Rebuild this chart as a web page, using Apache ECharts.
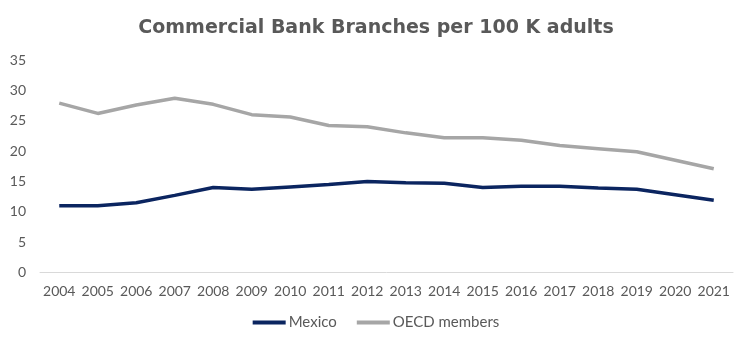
<!DOCTYPE html>
<html><head><meta charset="utf-8">
<script src="https://cdn.jsdelivr.net/npm/echarts@6/dist/echarts.min.js"></script>
<style>html,body{margin:0;padding:0;background:#fff}#c{width:752px;height:346px}</style>
</head><body><div id="c"></div>
<script>
const years = ['2004','2005','2006','2007','2008','2009','2010','2011','2012','2013','2014','2015','2016','2017','2018','2019','2020','2021'];
const mexico = [11.0,11.0,11.5,12.7,14.0,13.7,14.1,14.5,15.0,14.8,14.7,14.0,14.2,14.2,13.9,13.7,12.8,11.9];
const oecd = [27.9,26.2,27.6,28.7,27.7,26.0,25.6,24.2,24.0,23.0,22.2,22.2,21.8,20.9,20.4,19.9,18.5,17.1];
const yTicks = [0,5,10,15,20,25,30,35];
const chart = echarts.init(document.getElementById('c'));
const font = 'Lato, "DejaVu Sans", sans-serif';
chart.setOption({
  animation:false,
  title:{text:'Commercial Bank Branches per 100 K adults',left:'center',top:14,
    textStyle:{color:'#595959',fontSize:19,fontWeight:'bold',fontFamily:'"DejaVu Sans", sans-serif'}},
  grid:{left:40,right:19,top:60,bottom:73.5,containLabel:false},
  legend:{bottom:11,left:'center',itemWidth:33,itemHeight:4,itemGap:20,icon:'rect',
    textStyle:{color:'#595959',fontSize:15,fontFamily:font,padding:[0,0,0,-2]},
    data:['Mexico','OECD members']},
  xAxis:{type:'category',data:years,boundaryGap:true,
    axisLine:{lineStyle:{color:'#d9d9d9',width:1}},axisTick:{show:false},
    axisLabel:{color:'#595959',fontSize:14,fontFamily:font,margin:12,interval:0}},
  yAxis:{type:'value',min:yTicks[0],max:yTicks[yTicks.length-1],interval:5,
    axisLine:{show:false},axisTick:{show:false},splitLine:{show:false},
    axisLabel:{color:'#595959',fontSize:14,fontFamily:font,margin:14}},
  series:[
    {name:'Mexico',type:'line',data:mexico,symbol:'none',lineStyle:{color:'#0b2560',width:3.5},itemStyle:{color:'#0b2560'}},
    {name:'OECD members',type:'line',data:oecd,symbol:'none',lineStyle:{color:'#a6a6a6',width:3.5},itemStyle:{color:'#a6a6a6'}}
  ]
});
</script></body></html>
